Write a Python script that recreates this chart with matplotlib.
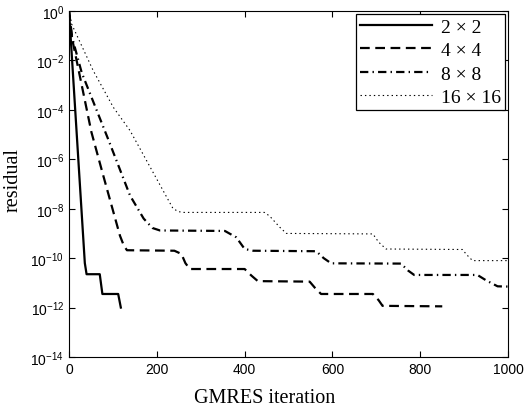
import matplotlib
matplotlib.use("Agg")
import matplotlib.pyplot as plt

# GMRES convergence history (log10 of residual)
it_2 = [0, 36, 40, 70, 76, 112, 118]
res_2 = [0, -10.2, -10.65, -10.65, -11.45, -11.45, -12.0]

it_4 = [0, 8, 51, 78, 116, 125, 132, 240, 256, 265, 275, 400, 415, 430,
        548, 560, 574, 692, 705, 714, 850]
res_4 = [0, -1.2, -4.9, -6.66, -9.09, -9.5, -9.68, -9.7, -9.83, -10.2, -10.44,
         -10.44, -10.7, -10.93, -10.95, -11.2, -11.45, -11.45, -11.7, -11.93, -11.95]

it_8 = [0, 6, 29, 89, 139, 170, 190, 207, 355, 381, 400, 419, 563, 580, 597,
        756, 772, 786, 930, 950, 976, 1000]
res_8 = [0, -1.0, -2.5, -5.18, -7.47, -8.4, -8.78, -8.88, -8.9, -9.16, -9.63,
         -9.7, -9.72, -10.0, -10.21, -10.22, -10.5, -10.68, -10.68, -10.9, -11.14, -11.15]

it_16 = [0, 6, 55, 101, 139, 237, 250, 260, 445, 457, 480, 495, 692, 705, 722,
         896, 905, 919, 1000]
res_16 = [0, -0.53, -2.41, -3.9, -4.84, -8.0, -8.12, -8.15, -8.15, -8.3, -8.75,
          -9.0, -9.02, -9.35, -9.63, -9.65, -9.85, -10.1, -10.1]

labels = ["2 \u00d7 2", "4 \u00d7 4", "8 \u00d7 8", "16 \u00d7 16"]

plt.rcParams["font.family"] = "Liberation Sans"
plt.rcParams["mathtext.fontset"] = "custom"
plt.rcParams["mathtext.rm"] = "Liberation Sans"
plt.rcParams["lines.scale_dashes"] = False

fig = plt.figure(figsize=(5.24, 4.10), dpi=100)
ax = fig.add_axes([0.1317, 0.1268, 0.838, 0.844])

ax.plot(it_2, [10.0 ** r for r in res_2], color="black", lw=1.6, linestyle="-")
ax.plot(it_4, [10.0 ** r for r in res_4], color="black", lw=1.6, dashes=(7, 4))
ax.plot(it_8, [10.0 ** r for r in res_8], color="black", lw=1.6, dashes=(6, 3, 1, 3))
ax.plot(it_16, [10.0 ** r for r in res_16], color="black", lw=0.8, dashes=(1, 2.2))

ax.set_yscale("log")
ax.set_xlim(0, 1000)
ax.set_ylim(1e-14, 1e0)
ax.set_xticks([0, 200, 400, 600, 800, 1000])
ax.set_yticks([10.0 ** e for e in range(-14, 1, 2)])
ax.minorticks_off()
ax.tick_params(direction="in", top=True, right=True, length=4, labelsize=10)

serif = {"family": "Liberation Serif", "size": 14.5}
ax.set_xlabel("GMRES iteration", fontdict=serif)
ax.set_ylabel("residual", fontdict=serif)
ax.xaxis.set_label_coords(0.445, -0.089)
ax.yaxis.set_label_coords(-0.105, 0.515)

leg = ax.legend(labels, loc="upper right", prop={"family": "Liberation Serif", "size": 14},
                handlelength=3.7, handletextpad=0.45, borderpad=0.22, labelspacing=0.3,
                borderaxespad=0.15, fancybox=False, framealpha=1)
leg.get_frame().set_edgecolor("black")
leg.get_frame().set_linewidth(0.9)

fig.savefig("out.png", dpi=100)
